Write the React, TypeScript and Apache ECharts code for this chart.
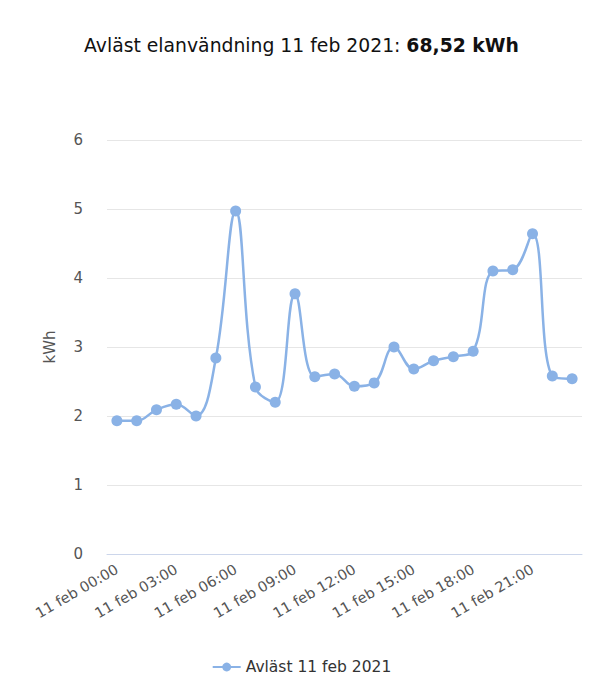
import React, { useEffect, useRef } from "react";
import * as echarts from "echarts";

const categories = [
  "11 feb 00:00", "11 feb 01:00", "11 feb 02:00", "11 feb 03:00", "11 feb 04:00", "11 feb 05:00",
  "11 feb 06:00", "11 feb 07:00", "11 feb 08:00", "11 feb 09:00", "11 feb 10:00", "11 feb 11:00",
  "11 feb 12:00", "11 feb 13:00", "11 feb 14:00", "11 feb 15:00", "11 feb 16:00", "11 feb 17:00",
  "11 feb 18:00", "11 feb 19:00", "11 feb 20:00", "11 feb 21:00", "11 feb 22:00", "11 feb 23:00",
];
const values = [
  1.93, 1.93, 2.09, 2.17, 2.0, 2.84, 4.97, 2.42, 2.2, 3.77, 2.57, 2.61,
  2.43, 2.48, 3.0, 2.68, 2.8, 2.86, 2.94, 4.1, 4.12, 4.64, 2.58, 2.54,
];
const seriesName = "Avläst 11 feb 2021";
const titleText = "Avläst elanvändning 11 feb 2021: ";
const totalText = "68,52 kWh";

const FONT = "'DejaVu Sans', 'Noto Sans', sans-serif";

export default function App() {
  const ref = useRef<HTMLDivElement>(null);
  useEffect(() => {
    if (!ref.current) return;
    const chart = echarts.init(ref.current, null, { renderer: "svg" });
    chart.setOption({
      animation: false,
      backgroundColor: "#ffffff",
      textStyle: { fontFamily: FONT },
      title: {
        text: titleText + "{b|" + totalText + "}",
        left: "center",
        top: 31,
        textStyle: {
          fontFamily: FONT,
          fontSize: 18.8,
          fontWeight: "normal",
          color: "#111",
          rich: {
            b: { fontFamily: FONT, fontSize: 18.8, fontWeight: "bold", color: "#111" },
          },
        },
      },
      legend: {
        bottom: 20,
        left: "center",
        itemWidth: 28,
        itemHeight: 11,
        itemGap: 10,
        textStyle: { fontFamily: FONT, fontSize: 15.5, color: "#333" },
        data: [seriesName],
      },
      grid: { left: 107, right: 21, top: 140, bottom: 146 },
      xAxis: {
        type: "category",
        data: categories,
        boundaryGap: true,
        axisLine: { lineStyle: { color: "#ccd6eb" } },
        axisTick: { alignWithLabel: true, interval: 2, length: 12, lineStyle: { color: "#ccd6eb" } },
        axisLabel: {
          interval: 2,
          rotate: 30,
          fontFamily: FONT,
          fontSize: 14.5,
          color: "#555",
          margin: 14,
        },
      },
      yAxis: {
        type: "value",
        min: 0,
        max: 6,
        interval: 1,
        name: "kWh",
        nameLocation: "middle",
        nameGap: 50,
        nameRotate: 90,
        nameTextStyle: { fontFamily: FONT, fontSize: 15, color: "#555" },
        axisLine: { show: false },
        axisTick: { show: false },
        axisLabel: { fontFamily: FONT, fontSize: 15, color: "#555", margin: 24 },
        splitLine: { lineStyle: { color: "#e6e6e6" } },
      },
      series: [
        {
          name: seriesName,
          type: "line",
          data: values,
          smooth: 0.4,
          symbol: "circle",
          symbolSize: 11,
          lineStyle: { width: 2.5, color: "#8ab2e6" },
          itemStyle: { color: "#8ab2e6" },
        },
      ],
    });
    return () => chart.dispose();
  }, []);
  return (
    <div
      ref={ref}
      style={{ position: "fixed", left: 0, top: 0, width: 603, height: 700 }}
    />
  );
}
